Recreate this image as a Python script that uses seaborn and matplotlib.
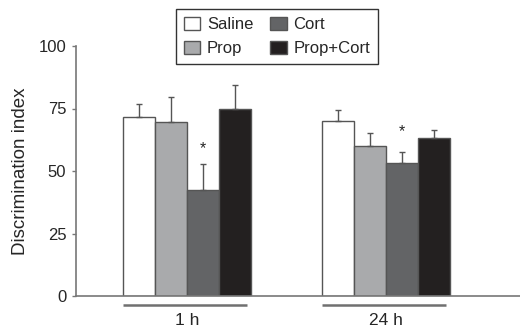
import matplotlib
matplotlib.use("Agg")
import matplotlib.pyplot as plt
import matplotlib.transforms as mtransforms
from matplotlib.patches import Patch
import seaborn as sns
import pandas as pd

groups = ["1 h", "24 h"]
treatments = ["Saline", "Prop", "Cort", "Prop+Cort"]
means_1h = [71.6, 69.7, 42.4, 74.8]
means_24h = [70.1, 60.1, 53.1, 63.1]
sem_1h = [5.1, 9.8, 10.4, 9.5]
sem_24h = [4.3, 5.0, 4.4, 3.2]
star_1h = 59.0
star_24h = 65.6

colors = ["#ffffff", "#a9aaac", "#636466", "#231f20"]

rows = []
for g, ms, ss in [("1 h", means_1h, sem_1h), ("24 h", means_24h, sem_24h)]:
    for t, m, s in zip(treatments, ms, ss):
        rows.append({"time": g, "treatment": t, "value": m, "sem": s})
df = pd.DataFrame(rows)

sns.set_style("white")
plt.rcParams["font.family"] = ["Liberation Sans", "DejaVu Sans"]

fig = plt.figure(figsize=(5.2, 3.31), dpi=100)
ax = fig.add_axes([76/520, 35/331, 444/520, 250/331])

sns.barplot(data=df, x="time", y="value", hue="treatment", order=groups,
            hue_order=treatments, palette=colors, errorbar=None, width=0.643,
            edgecolor="#555555", linewidth=1.0, ax=ax, legend=False)

# error bars (upper only) from the bar patches
patches = [p for p in ax.patches if p.get_height() > 0]
patches = sorted(patches, key=lambda p: p.get_x())
sems = sem_1h + sem_24h
for p, s in zip(patches, sems):
    xc = p.get_x() + p.get_width() / 2
    h = p.get_height()
    ax.errorbar([xc], [h], yerr=[[0], [s]], fmt="none", ecolor="#555555",
                elinewidth=1.0, capsize=2, capthick=1.0, zorder=1)

# stars over Cort bars
for p, y in [(patches[2], star_1h), (patches[6], star_24h)]:
    ax.text(p.get_x() + p.get_width() / 2, y, "*", ha="center", va="center",
            fontsize=11.5)

# group underlines
trans = mtransforms.blended_transform_factory(ax.transData, ax.transAxes)
for i in range(2):
    grp = patches[i*4:(i+1)*4]
    x0 = grp[0].get_x()
    x1 = grp[-1].get_x() + grp[-1].get_width()
    ax.plot([x0, x1 - 0.02], [-0.036, -0.036], color="#707070", lw=1.8,
            transform=trans, clip_on=False, solid_capstyle="butt")

ax.set_ylim(0, 100)
ax.set_xlim(-0.558, 1.673)
ax.set_yticks([0, 25, 50, 75, 100])
ax.tick_params(axis="y", left=True, length=3, width=1, color="#777777",
               labelsize=12, pad=4)
ax.tick_params(axis="x", bottom=False, labelsize=12.5, pad=8.5)
ax.set_xlabel("")
ax.set_ylabel("Discrimination index", fontsize=13.5, labelpad=7)
for side in ["top", "right"]:
    ax.spines[side].set_visible(False)
for side in ["left", "bottom"]:
    ax.spines[side].set_color("#777777")
    ax.spines[side].set_linewidth(1.2)

handles = [Patch(facecolor=c, edgecolor="#555555", linewidth=1.0) for c in colors]
leg = fig.legend(handles, treatments, ncol=2, loc="upper center",
                 bbox_to_anchor=(277/520, 1 - 9/331), frameon=True, fancybox=False,
                 edgecolor="black", fontsize=12, handlelength=1.0, handleheight=0.9,
                 handletextpad=0.4, columnspacing=1.0, labelspacing=0.5,
                 borderpad=0.45, borderaxespad=0)
leg.get_frame().set_linewidth(1.0)

fig.savefig("out.png", dpi=100)
